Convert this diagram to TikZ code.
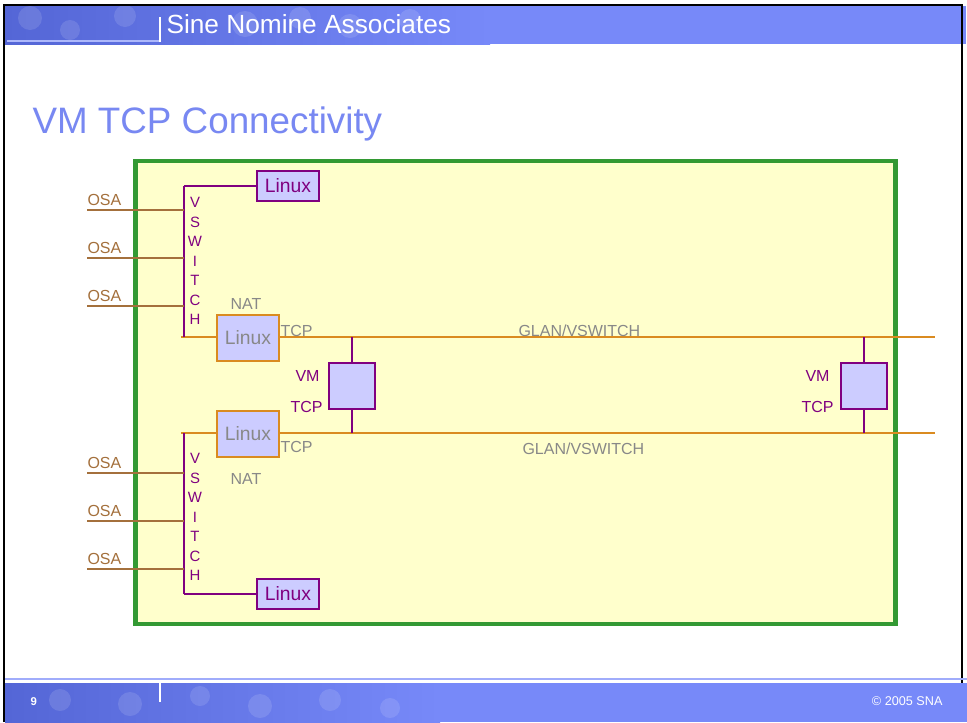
\documentclass[tikz,border=0pt]{standalone}
\usepackage{fontspec}
\setmainfont{Liberation Sans}

\definecolor{hdrblue}{RGB}{119,137,249}
\definecolor{hdrdark}{RGB}{84,102,214}
\definecolor{ttlblue}{RGB}{120,136,242}
\definecolor{frmgreen}{RGB}{51,153,51}
\definecolor{bgyellow}{RGB}{255,255,204}
\definecolor{vspurple}{RGB}{128,0,128}
\definecolor{boxlilac}{RGB}{204,204,255}
\definecolor{glanorange}{RGB}{218,139,32}
\definecolor{osabrown}{RGB}{164,112,60}
\definecolor{txtgray}{RGB}{136,136,136}

\tikzset{every picture/.style={line width=0.75pt}}
\tikzset{
  lnxbox/.style={draw=vspurple,fill=boxlilac,line width=1.5pt,minimum width=46.5pt,minimum height=22.5pt,inner sep=0pt,text=vspurple,font=\fontsize{14.5}{16}\selectfont},
  natbox/.style={draw=glanorange,fill=boxlilac,line width=1.5pt,minimum width=46.5pt,minimum height=34.5pt,inner sep=0pt,text=txtgray,font=\fontsize{14.5}{16}\selectfont},
  vmbox/.style={draw=vspurple,fill=boxlilac,line width=1.5pt,minimum width=34.5pt,minimum height=34.5pt,inner sep=0pt},
  osaline/.style={draw=osabrown,line width=1.5pt},
  glanline/.style={draw=glanorange,line width=1.5pt},
  vsline/.style={draw=vspurple,line width=1.5pt},
  osatxt/.style={anchor=base west,inner sep=0pt,text=osabrown,font=\fontsize{12}{14}\selectfont},
  graytxt/.style={anchor=base west,inner sep=0pt,text=txtgray,font=\fontsize{12}{14}\selectfont},
  vmtxt/.style={anchor=base west,inner sep=0pt,text=vspurple,font=\fontsize{12}{14}\selectfont},
  vstxt/.style={inner sep=0pt,text=vspurple,align=center,font=\fontsize{11.2}{14.6}\selectfont}
}

\begin{document}
\begin{tikzpicture}[x=0.75pt,y=0.75pt,yscale=-1,xscale=1]
\useasboundingbox (0,0) rectangle (967,722);
\fill[white] (0,0) rectangle (967,722);

%Header band
\fill[hdrblue] (5,6) rectangle (966,44);
\shade[left color=hdrdark,right color=hdrblue] (5,6) rectangle (490,44);
\foreach \cx/\cy/\r in {30/18/12, 70/30/10, 125/16/11, 245/24/13, 300/18/11, 350/26/12, 410/20/11}
  \fill[white,opacity=0.12] (\cx,\cy) circle (\r);
\draw[color=hdrblue!60!white,line width=1pt] (7,41) -- (160,41);
\draw[white,line width=1.2pt] (160,17) -- (160,42);
\draw[hdrblue,line width=1.2pt] (962,41) -- (966,41);
\node[anchor=base west,inner sep=0pt,text=white,font=\fontsize{19.7}{22}\selectfont] (hdr) at (166,33) {Sine Nomine Associates};

%Page frame
\draw[black,line width=1.8pt] (4,722) -- (4,5) -- (962,5) -- (962,722);

% Title
\node[anchor=base west,inner sep=0pt,text=ttlblue,font=\fontsize{27.6}{30}\selectfont] (title) at (32,133) {VM TCP Connectivity};

%Footer band
\draw[color=hdrblue!70!white,line width=1pt] (5,679) -- (967,679);
\fill[hdrblue] (5,683) rectangle (967,722);
\shade[left color=hdrdark,right color=hdrblue] (5,683) rectangle (440,722);
\foreach \cx/\cy/\r in {60/700/11, 130/704/12, 200/696/10, 260/706/12, 330/700/11, 390/708/10}
  \fill[white,opacity=0.12] (\cx,\cy) circle (\r);
\draw[white,line width=1pt] (160,683) -- (160,702);
\node[anchor=base west,inner sep=0pt,text=white,font=\bfseries\fontsize{8.5}{10}\selectfont] (pgno) at (30,705) {9};
\node[anchor=base east,inner sep=0pt,text=white,font=\fontsize{9.5}{11}\selectfont] (copy) at (943,705) {\textcopyright{} 2005 SNA};

%Shape: z/VM frame
\draw[frmgreen,fill=bgyellow,line width=3.4pt] (135.5,161) rectangle (895.5,624);

%GLAN lines
\coordinate (glanAw) at (181,337);
\coordinate (glanAe) at (935,337);
\coordinate (glanBw) at (181,433);
\coordinate (glanBe) at (935,433);
\draw[glanline] (glanAw) -- (glanAe);
\draw[glanline] (glanBw) -- (glanBe);

%VSWITCH spines
\coordinate (vsAtop) at (184,186);
\coordinate (vsAbot) at (184,337);
\coordinate (vsBtop) at (184,433);
\coordinate (vsBbot) at (184,593.5);
\draw[vsline] (vsAtop) -- (vsAbot);
\draw[vsline] (vsBtop) -- (vsBbot);

%OSA lines
\foreach \i/\y in {1/210,2/258,3/306,4/473,5/521,6/569} {
  \coordinate (osa\i) at (87,\y);
  \coordinate (tap\i) at (184,\y);
  \draw[osaline] (osa\i) -- (tap\i);
  \node[osatxt] (osalbl\i) at (87,\y-5) {OSA};
}

% Linux guests on VSWITCH
\node[lnxbox] (lnxA) at (288,186) {Linux};
\node[lnxbox] (lnxB) at (288,593.5) {Linux};
\draw[vsline] (vsAtop) -- (vsAtop -| lnxA.west);
\draw[vsline] (vsBbot) -- (vsBbot -| lnxB.west);

% VSWITCH text
\node[vstxt] (vsAtxt) at (195,261) {V\\S\\W\\I\\T\\C\\H};
\node[vstxt] (vsBtxt) at (195,517) {V\\S\\W\\I\\T\\C\\H};

% NAT routers
\node[natbox] (natA) at (248,337.5) {\raisebox{-3pt}{Linux}};
\node[natbox] (natB) at (248,433.5) {\raisebox{-2pt}{Linux}};
\node[graytxt] (natAlbl) at (230,309) {NAT};
\node[graytxt] (natBlbl) at (230,484) {NAT};
\node[graytxt] (natAtcp) at (280,336) {TCP};
\node[graytxt] (natBtcp) at (280,452) {TCP};

% GLAN labels
\node[graytxt] (glanAlbl) at (518,336) {GLAN/VSWITCH};
\node[graytxt] (glanBlbl) at (522,454) {GLAN/VSWITCH};

% VM TCP stacks
\node[vmbox] (vmA) at (352,385.5) {};
\node[vmbox] (vmB) at (864,385.5) {};
\draw[vsline] (vmA.north |- glanAw) -- (vmA.north);
\draw[vsline] (vmA.south) -- (vmA.south |- glanBw);
\draw[vsline] (vmB.north |- glanAw) -- (vmB.north);
\draw[vsline] (vmB.south) -- (vmB.south |- glanBw);
\node[vmtxt] (vmAlbl) at (295,381) {VM};
\node[vmtxt] (vmAtcp) at (290,412) {TCP};
\node[vmtxt] (vmBlbl) at (805,381) {VM};
\node[vmtxt] (vmBtcp) at (801,412) {TCP};

\end{tikzpicture}
\end{document}
